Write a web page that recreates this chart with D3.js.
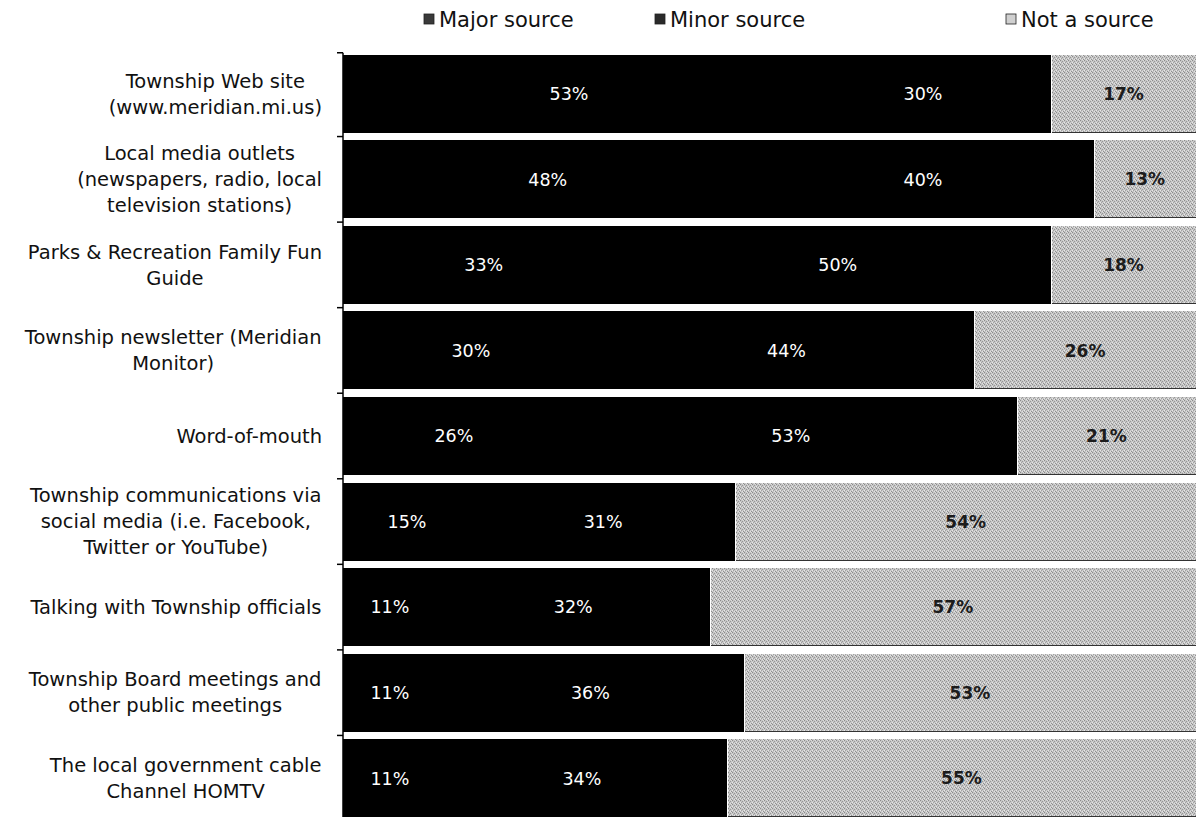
<!DOCTYPE html>
<html>
<head>
<meta charset="utf-8">
<script src="https://cdn.jsdelivr.net/npm/d3@7"></script>
<style>
  body { margin: 0; background: #fff; }
  svg { display: block; }
</style>
</head>
<body>
<svg width="1196" height="817"></svg>
<script>

// categories (each entry is one wrapped label, lines as shown)
var categories = [
  ["Township Web site", "(www.meridian.mi.us)"],
  ["Local media outlets", "(newspapers, radio, local", "television stations)"],
  ["Parks & Recreation Family Fun", "Guide"],
  ["Township newsletter (Meridian", "Monitor)"],
  ["Word-of-mouth"],
  ["Township communications via", "social media (i.e. Facebook,", "Twitter or YouTube)"],
  ["Talking with Township officials"],
  ["Township Board meetings and", "other public meetings"],
  ["The local government cable", "Channel HOMTV"]
];

var seriesNames = ["Major source", "Minor source", "Not a source"];
var majorValues = [53, 48, 33, 30, 26, 15, 11, 11, 11];
var minorValues = [30, 40, 50, 44, 53, 31, 32, 36, 34];
var notValues   = [17, 13, 18, 26, 21, 54, 57, 53, 55];

// The svg
var svg = d3.select("svg"),
  width = +svg.attr("width"),
  height = +svg.attr("height");

var axisX = 343;

// pattern for the grey "not a source" fill (scanned halftone look)
var defs = svg.append("defs");
var pat = defs.append("pattern")
  .attr("id", "greyDots")
  .attr("width", 4).attr("height", 4)
  .attr("patternUnits", "userSpaceOnUse");
pat.append("rect").attr("width", 4).attr("height", 4).attr("fill", "#c6c6c6");
[[0, 0, "#8a8a8a"], [2, 1, "#969696"], [1, 2, "#a0a0a0"], [3, 3, "#909090"],
 [2, 3, "#e2e2e2"], [0, 2, "#e8e8e8"], [3, 0, "#dcdcdc"]].forEach(function (p) {
  pat.append("rect").attr("x", p[0]).attr("y", p[1])
    .attr("width", 1).attr("height", 1).attr("fill", p[2]);
});

var colors = ["#000000", "#000000", "url(#greyDots)"];
var legendSwatch = ["#3a3a3a", "#2a2a2a", "#d0d0d0"];

// scales
var x = d3.scaleLinear().domain([0, 100]).range([axisX, width]);
var y = d3.scaleBand()
  .domain(d3.range(categories.length))
  .range([51, 821])
  .paddingInner(0.088)
  .paddingOuter(0.044);

// stacked data
var rows = categories.map(function (c, i) {
  return { i: i, values: [majorValues[i], minorValues[i], notValues[i]] };
});

var plot = svg.append("g").attr("shape-rendering", "crispEdges");

rows.forEach(function (r) {
  var start = 0;
  r.values.forEach(function (v, s) {
    var x0 = x(start), x1 = Math.min(x(start + v), width);
    var yTop = y(r.i), bh = y.bandwidth();
    plot.append("rect")
      .attr("x", s == 2 ? x0 + 1 : x0 - (s == 1 ? 1 : 0))
      .attr("y", yTop)
      .attr("width", Math.max(0, x1 - x0 - (s == 2 ? 1 : 0) + (s == 1 ? 1 : 0)))
      .attr("height", bh)
      .attr("fill", colors[s]);
    if (s == 2) {
      plot.append("line")
        .attr("x1", x0 + 1).attr("x2", x1)
        .attr("y1", yTop + bh - 0.5).attr("y2", yTop + bh - 0.5)
        .attr("stroke", "#333").attr("stroke-width", 1);
    }
    // value label centred in visible part of the segment
    plot.append("text")
      .attr("x", (x0 + x1) / 2)
      .attr("y", yTop + bh / 2)
      .attr("dy", "0.36em")
      .attr("text-anchor", "middle")
      .attr("shape-rendering", "auto")
      .style("font-family", "'DejaVu Sans', Verdana, sans-serif")
      .style("font-size", s == 2 ? "17px" : "17.5px")
      .style("font-weight", s == 2 ? "bold" : "normal")
      .attr("fill", s == 2 ? "#1c1c1c" : "#ffffff")
      .text(v + "%");
    start += v;
  });
});

// vertical axis with outer ticks at band boundaries
var axisG = svg.append("g");
axisG.append("line")
  .attr("x1", axisX).attr("x2", axisX)
  .attr("y1", y(0) - 2).attr("y2", height)
  .attr("stroke", "#000").attr("stroke-width", 1.5);
d3.range(categories.length).forEach(function (i) {
  var yy = y(i) - y.step() * y.paddingInner() / 2;
  if (i == 0) yy = y(0) - 2;
  axisG.append("line")
    .attr("x1", axisX - 6).attr("x2", axisX)
    .attr("y1", yy).attr("y2", yy)
    .attr("stroke", "#000").attr("stroke-width", 1.5);
});

// category labels: wrapped block centred, block right-aligned to axis
var labelRight = 322, lineH = 26;
categories.forEach(function (lines, i) {
  var g = svg.append("g");
  var t = g.append("text")
    .attr("text-anchor", "middle")
    .style("font-family", "'DejaVu Sans', Tahoma, sans-serif")
    .style("font-size", "19.5px")
    .attr("fill", "#111");
  var cy = y(i) + y.bandwidth() / 2;
  lines.forEach(function (ln, k) {
    t.append("tspan")
      .attr("x", 0)
      .attr("y", cy + (k - (lines.length - 1) / 2) * lineH)
      .attr("dy", "0.35em")
      .text(ln);
  });
  var w = t.node().getBBox().width;
  t.selectAll("tspan").attr("x", labelRight - w / 2);
});

// Legend
var legendX = [424, 655, 1006];
var legend = svg.append("g");
seriesNames.forEach(function (name, s) {
  legend.append("rect")
    .attr("x", legendX[s]).attr("y", 14)
    .attr("width", 10).attr("height", 10)
    .attr("fill", legendSwatch[s])
    .attr("stroke", "#222").attr("stroke-width", 0.8);
  legend.append("text")
    .attr("x", legendX[s] + 15).attr("y", 27)
    .style("font-family", "'DejaVu Sans', Tahoma, sans-serif")
    .style("font-size", "21px")
    .attr("fill", "#111")
    .text(name);
});

</script>
</body>
</html>
